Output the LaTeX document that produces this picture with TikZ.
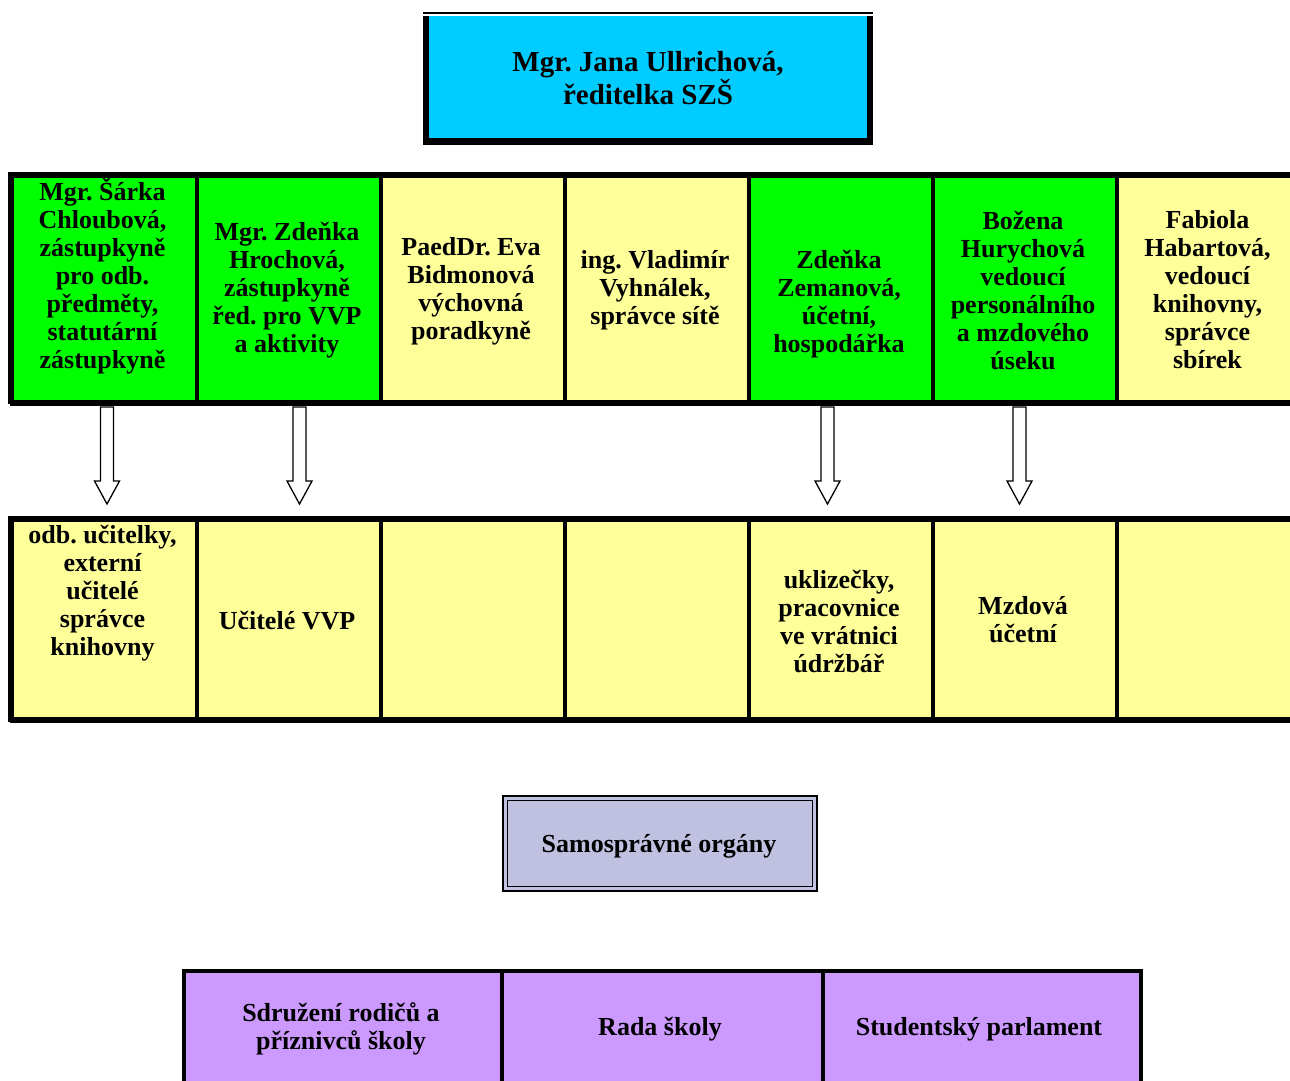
\documentclass[tikz,border=0pt]{standalone}
\usepackage{fontspec}
\setmainfont{Liberation Serif}
\frenchspacing
\definecolor{dircyan}{HTML}{00CCFF}
\definecolor{cellgreen}{HTML}{00FF00}
\definecolor{cellyellow}{HTML}{FFFF99}
\definecolor{samogrey}{HTML}{C0C0E0}
\definecolor{orgpurple}{HTML}{CC99FF}
\begin{document}
\begin{tikzpicture}[x=1pt,y=-1pt,
  txt/.style={align=center,inner sep=0pt,font=\fontsize{26}{28}\selectfont\bfseries},
  dirtxt/.style={align=center,inner sep=0pt,font=\fontsize{29}{28.5}\selectfont\bfseries},
  cellbox/.style={draw=black,line width=3.5pt,inner sep=0pt,anchor=north west},
  blockarr/.style={draw=black,fill=white,line width=1.3pt,line join=miter}
]
\useasboundingbox (0,0) rectangle (1290,1080);
\clip (0,0) rectangle (1290,1080);

% director
\draw[line width=1.5pt] (423,13) -- (873,13);
\fill[black] (423,15.5) rectangle (873,145);
\fill[dircyan] (429,15.5) rectangle (867,138);
\node[dirtxt] (dir) at (648,78) {Mgr. Jana Ullrichová,\\ředitelka SZŠ};

% top row cells
\foreach \i/\xa/\xb/\col in {1/10/195/cellgreen,2/195/379/cellgreen,3/379/563/cellyellow,4/563/747/cellyellow,5/747/931/cellgreen,6/931/1115/cellgreen,7/1115/1300/cellyellow}{
  \node[cellbox,fill=\col,minimum width={\xb-\xa},minimum height=228] (t\i) at (\xa,174) {};
}
\draw[line width=4pt] (10,174) rectangle (1300,402);

% bottom row cells
\foreach \i/\xa/\xb in {1/10/195,2/195/379,3/379/563,4/563/747,5/747/931,6/931/1115,7/1115/1300}{
  \node[cellbox,fill=cellyellow,minimum width={\xb-\xa},minimum height=201] (b\i) at (\xa,518) {};
}
\draw[line width=5pt] (10,518) rectangle (1300,719);

% top row texts
\node[txt] (tt1) at (102.5,276) {Mgr. Šárka\\Chloubová,\\zástupkyně\\pro odb.\\předměty,\\statutární\\zástupkyně};
\node[txt] (tt2) at (287,290) {Mgr. Zdeňka\\Hrochová,\\zástupkyně\\řed. pro VVP\\a aktivity};
\node[txt] (tt3) at (471,291) {PaedDr. Eva\\Bidmonová\\výchovná\\poradkyně};
\node[txt] (tt4) at (655,290) {ing. Vladimír\\Vyhnálek,\\správce sítě};
\node[txt] (tt5) at (839,304) {Zdeňka\\Zemanová,\\účetní,\\hospodářka};
\node[txt] (tt6) at (1023,290) {Božena\\Hurychová\\vedoucí\\personálního\\a mzdového\\úseku};
\node[txt] (tt7) at (1207.5,290) {Fabiola\\Habartová,\\vedoucí\\knihovny,\\správce\\sbírek};

% bottom row texts
\node[txt] (bt1) at (102.5,593) {odb. učitelky,\\externí\\učitelé\\správce\\knihovny};
\node[txt] (bt2) at (287,621) {Učitelé VVP};
\node[txt] (bt5) at (839,621) {uklizečky,\\pracovnice\\ve vrátnici\\údržbář};
\node[txt] (bt6) at (1023,620) {Mzdová\\účetní};

% hollow block arrows
\foreach \ax in {107,299.5,827.5,1019.5}{
  \draw[blockarr] (\ax-6.5,407) -- (\ax+6.5,407) -- (\ax+6.5,481) -- (\ax+12.5,481)
     -- (\ax,504) -- (\ax-12.5,481) -- (\ax-6.5,481) -- cycle;
}

% Samospravne organy
\fill[samogrey] (503,796) rectangle (817,891);
\draw[line width=2.5pt] (503,796) rectangle (817,891);
\draw[line width=1.2pt] (507.5,800.5) rectangle (812.5,886.5);
\node[txt] (samo) at (659,846) {Samosprávné orgány};

% purple row
\foreach \i/\xa/\xb in {1/182/500,2/500/821,3/821/1139}{
  \node[cellbox,fill=orgpurple,line width=4pt,minimum width={\xb-\xa},minimum height=130] (p\i) at (\xa,969) {};
}
\node[txt] (pt1) at (341,1029) {Sdružení rodičů a\\příznivců školy};
\node[txt] (pt2) at (660,1029) {Rada školy};
\node[txt] (pt3) at (979,1029) {Studentský parlament};
\end{tikzpicture}
\end{document}
